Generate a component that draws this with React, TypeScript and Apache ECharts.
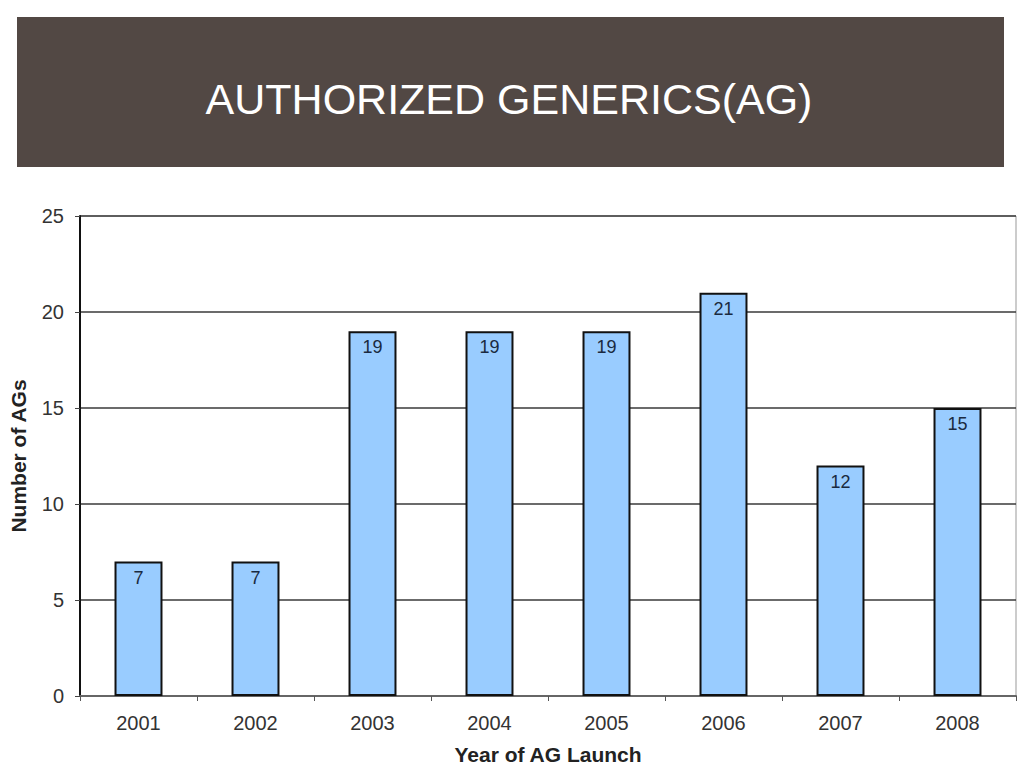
import React, { useEffect, useRef } from "react";
import * as echarts from "echarts";

const titleText = "AUTHORIZED GENERICS(AG)";
const years = ["2001", "2002", "2003", "2004", "2005", "2006", "2007", "2008"];
const agCounts = [7, 7, 19, 19, 19, 21, 12, 15];
const xAxisTitle = "Year of AG Launch";
const yAxisTitle = "Number of AGs";

export default function App() {
  const ref = useRef<HTMLDivElement>(null);
  useEffect(() => {
    if (!ref.current) return;
    const chart = echarts.init(ref.current, null, { renderer: "svg" });
    const font = "'Liberation Sans', Arial, sans-serif";
    chart.setOption({
      animation: false,
      backgroundColor: "#ffffff",
      textStyle: { fontFamily: font },
      graphic: [
        {
          type: "rect",
          shape: { x: 17, y: 17, width: 987, height: 150 },
          style: { fill: "#524844" },
        },
        {
          type: "text",
          x: 509,
          y: 99,
          style: {
            text: titleText,
            fill: "#ffffff",
            font: `43px ${font}`,
            textAlign: "center",
            textVerticalAlign: "middle",
          },
        },
      ],
      grid: {
        left: 80,
        right: 8,
        top: 216,
        bottom: 72,
        outerBoundsMode: "none",
        containLabel: false,
        show: true,
        borderColor: "#999",
        borderWidth: 1,
      },
      xAxis: {
        type: "category",
        data: years,
        name: xAxisTitle,
        nameLocation: "middle",
        nameGap: 48,
        nameTextStyle: { fontSize: 21, fontWeight: "bold", color: "#222", fontFamily: font },
        axisLine: { lineStyle: { color: "#666", width: 2 } },
        axisTick: { show: true, length: 5, lineStyle: { color: "#555" } },
        axisLabel: { fontSize: 20, color: "#333", margin: 17, fontFamily: font },
      },
      yAxis: {
        type: "value",
        min: 0,
        max: 25,
        interval: 5,
        name: yAxisTitle,
        nameLocation: "middle",
        nameGap: 51,
        nameTextStyle: { fontSize: 21, fontWeight: "bold", color: "#222", fontFamily: font },
        axisLine: { show: true, lineStyle: { color: "#111", width: 2 } },
        axisTick: { show: true, length: 5, lineStyle: { color: "#444" } },
        axisLabel: { fontSize: 20, color: "#333", margin: 16, fontFamily: font },
        splitLine: { lineStyle: { color: "#3a3a3a", width: 1.5 } },
      },
      series: [
        {
          type: "bar",
          data: agCounts,
          barWidth: "41%",
          itemStyle: { color: "#99CCFF", borderColor: "#111", borderWidth: 2 },
          label: {
            show: true,
            position: "insideTop",
            distance: 7,
            fontSize: 18,
            color: "#1a2a40",
            fontFamily: font,
          },
        },
      ],
    });
    return () => chart.dispose();
  }, []);
  return (
    <div
      ref={ref}
      style={{ position: "fixed", left: 0, top: 0, width: 1024, height: 768 }}
    />
  );
}
